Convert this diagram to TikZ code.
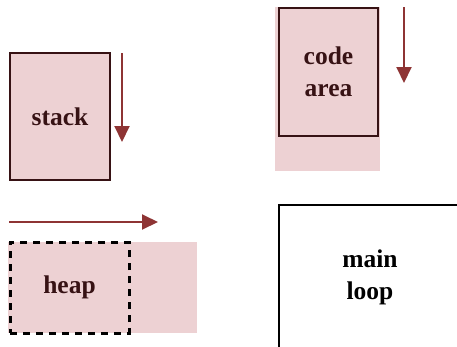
\documentclass[tikz,border=0pt]{standalone}
\usepackage{fontspec}
\setmainfont{Liberation Serif}
\usetikzlibrary{arrows.meta}
\definecolor{memfill}{RGB}{237,209,211}
\definecolor{memarrow}{RGB}{142,52,52}
\definecolor{memtext}{RGB}{55,18,20}
\tikzset{region/.style={draw=memtext,line width=2.5pt,fill=memfill,text=memtext,inner sep=0pt,align=center,font=\bfseries\fontsize{25.5}{32}\selectfont},
         spare/.style={fill=memfill,inner sep=0pt},
         growarrow/.style={memarrow,line width=2pt,-{Triangle[length=16pt,width=15pt]}}}

\begin{document}
\begin{tikzpicture}[x=1pt,y=-1pt]
                  \useasboundingbox (0,0) rectangle (457,346);
                  \node[spare,minimum width=105pt,minimum height=164pt] (codespace) at (327.5,89) {};
                  \node[spare,minimum width=189pt,minimum height=91pt] (heapspace) at (102.5,287.5) {};
                  \node[region,minimum width=100pt,minimum height=127pt] (stack) at (60,116.5) {stack};
                  \node[region,minimum width=99pt,minimum height=128pt] (code) at (328.5,72) {code\\area};
                  \node[region,draw=black,line width=3pt,dash pattern=on 7pt off 6pt,minimum width=119pt,minimum height=91pt] (heap) at (69.5,287.5) {heap};
                  \node[region,draw=black,fill=white,text=black,minimum width=182pt,minimum height=144pt] (loop) at (370,277) {main\\loop};
                  \coordinate (stackfrom) at (122,53);
                  \coordinate (stackto) at (122,142);
                  \coordinate (codefrom) at (404,7);
                  \coordinate (codeto) at (404,83);
                  \coordinate (heapfrom) at (9,222);
                  \coordinate (heapto) at (158,222);
                  \draw[growarrow] (stackfrom) -- (stackto);
                  \draw[growarrow] (codefrom) -- (codeto);
                  \draw[growarrow] (heapfrom) -- (heapto);
              \end{tikzpicture}
\end{document}
